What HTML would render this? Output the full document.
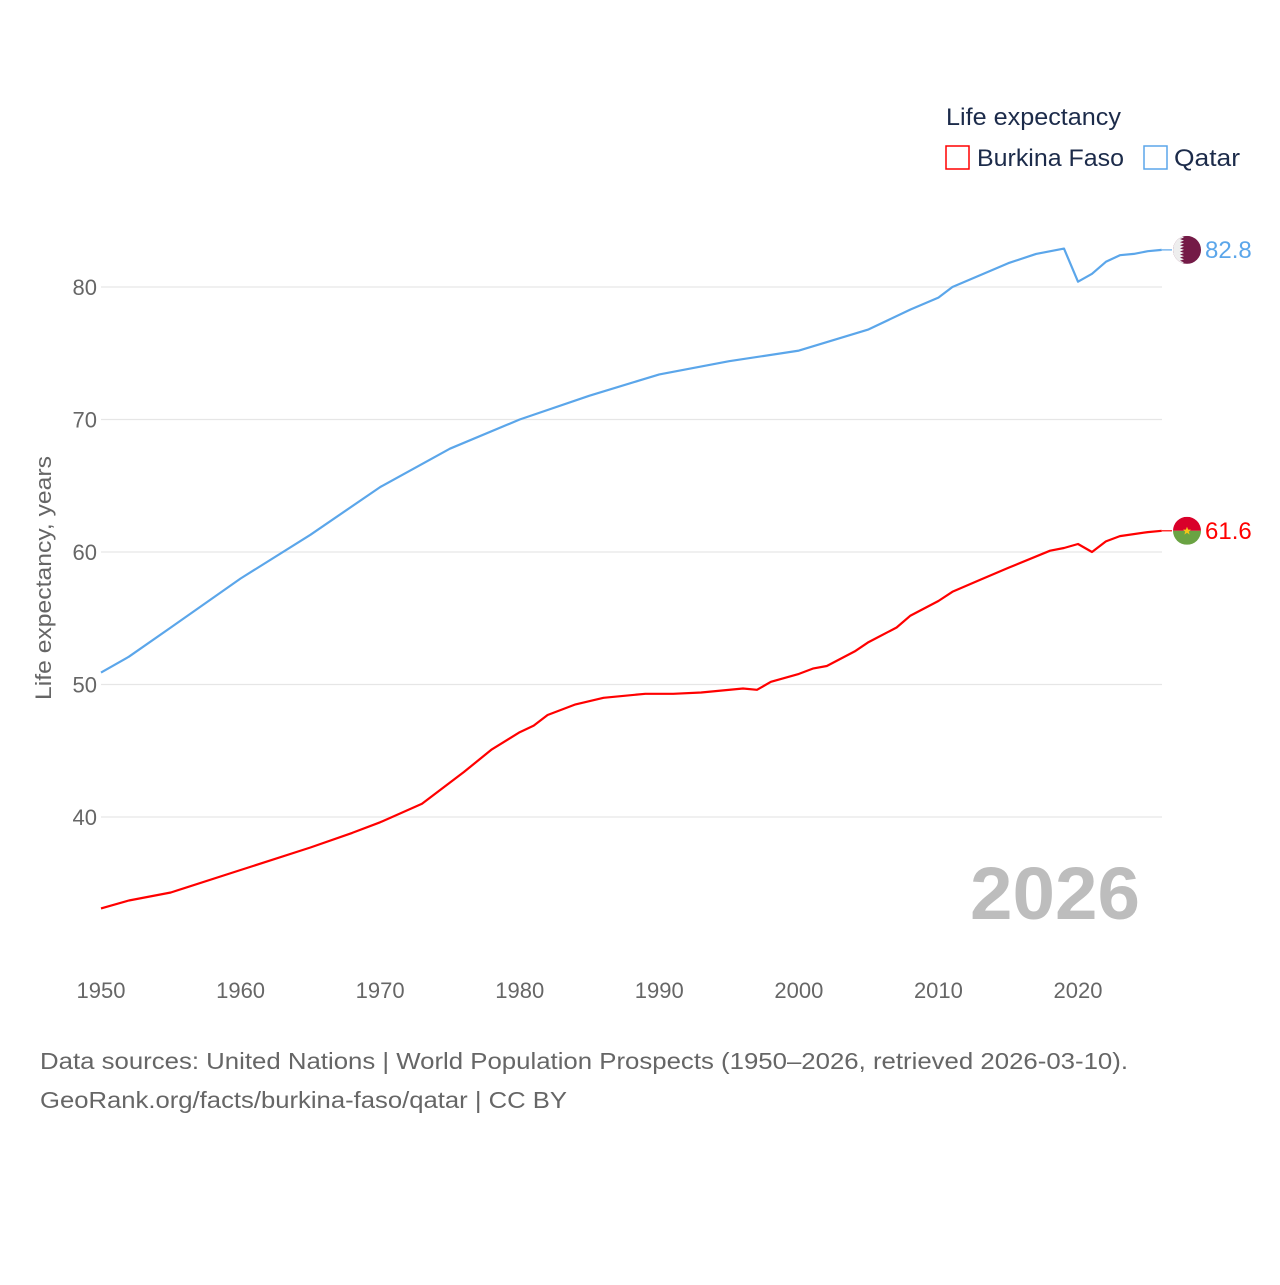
<!DOCTYPE html>
<html><head><meta charset="utf-8"><style>
body{margin:0;background:#fff;width:1280px;height:1280px;overflow:hidden;font-family:"Liberation Sans",sans-serif}
</style></head><body>
<svg width="1280" height="1280" xmlns="http://www.w3.org/2000/svg">
<g id="grid"></g>
<g id="yticks"></g>
<g id="xticks"></g>
<text transform="translate(51,578) rotate(-90)" text-anchor="middle" font-size="22" fill="#666" textLength="244" lengthAdjust="spacingAndGlyphs">Life expectancy, years</text>
<text x="1140" y="919" text-anchor="end" font-size="74" font-weight="bold" fill="#bdbdbd" textLength="170" lengthAdjust="spacingAndGlyphs">2026</text>
<g>
<text x="946" y="125" font-size="24" fill="#1c2b4a" textLength="175" lengthAdjust="spacingAndGlyphs">Life expectancy</text>
<rect x="946" y="146" width="23" height="23" fill="none" stroke="#ff0000" stroke-width="1.5"/>
<text x="977" y="166" font-size="24" fill="#1c2b4a" textLength="147" lengthAdjust="spacingAndGlyphs">Burkina Faso</text>
<rect x="1144" y="146" width="23" height="23" fill="none" stroke="#5ba6ea" stroke-width="1.5"/>
<text x="1174" y="166" font-size="24" fill="#1c2b4a" textLength="66" lengthAdjust="spacingAndGlyphs">Qatar</text>
</g>
<g id="series"></g>
<text x="40" y="1069" font-size="23" fill="#666" textLength="1088" lengthAdjust="spacingAndGlyphs">Data sources: United Nations | World Population Prospects (1950–2026, retrieved 2026-03-10).</text>
<text x="40" y="1108" font-size="23" fill="#666" textLength="527" lengthAdjust="spacingAndGlyphs">GeoRank.org/facts/burkina-faso/qatar | CC BY</text>
</svg>
<script>
const xTicks=[1950,1960,1970,1980,1990,2000,2010,2020];
const yTicks=[40,50,60,70,80];
const qatarYears=[1950,1952,1955,1960,1965,1970,1975,1980,1985,1990,1995,2000,2005,2008,2010,2011,2015,2017,2019,2020,2021,2022,2023,2024,2025,2026];
const qatarValues=[50.9,52.1,54.3,58.0,61.3,64.9,67.8,70.0,71.8,73.4,74.4,75.2,76.8,78.3,79.2,80.0,81.8,82.5,82.9,80.4,81.0,81.9,82.4,82.5,82.7,82.8];
const bfYears=[1950,1952,1955,1960,1965,1968,1970,1973,1976,1978,1980,1981,1982,1984,1986,1989,1991,1993,1996,1997,1998,2000,2001,2002,2004,2005,2007,2008,2010,2011,2013,2015,2018,2019,2020,2021,2022,2023,2025,2026];
const bfValues=[33.1,33.7,34.3,36.0,37.7,38.8,39.6,41.0,43.4,45.1,46.4,46.9,47.7,48.5,49.0,49.3,49.3,49.4,49.7,49.6,50.2,50.8,51.2,51.4,52.5,53.2,54.3,55.2,56.3,57.0,57.9,58.8,60.1,60.3,60.6,60.0,60.8,61.2,61.5,61.6];
const X=y=>101+(y-1950)*(977/70);
const Y=v=>287+(80-v)*13.25;
const NS="http://www.w3.org/2000/svg";
function mk(t,a,p){const e=document.createElementNS(NS,t);for(const k in a)e.setAttribute(k,a[k]);p.appendChild(e);return e;}
const grid=document.getElementById('grid'),yt=document.getElementById('yticks'),xt=document.getElementById('xticks'),ser=document.getElementById('series');
yTicks.forEach(v=>{
 const l=mk('line',{x1:101,x2:1162,y1:Y(v),y2:Y(v),stroke:'#e6e6e6','stroke-width':1.3},grid);
 
 
 const t=mk('text',{x:97,y:Y(v)+8,'text-anchor':'end','font-size':22,fill:'#666'},yt);t.textContent=v;
 
 
});
xTicks.forEach(v=>{
 const t=mk('text',{x:X(v),y:998,'text-anchor':'middle','font-size':22,fill:'#666'},xt);t.textContent=v;
 
 
});
function line(ys,vs,col,name){
 const d=ys.map((y,i)=>(i?'L':'M')+X(y).toFixed(1)+','+Y(vs[i]).toFixed(1)).join('');
 const p=mk('path',{d:d,fill:'none',stroke:col,'stroke-width':2.2,'stroke-linejoin':'round'},ser);
 
 
 const last=vs[vs.length-1],ly=Y(last);
 const c=mk('line',{x1:X(ys[ys.length-1]),x2:1172,y1:ly,y2:ly,stroke:col,'stroke-width':1.2},ser);
 
 
 const t=mk('text',{x:1205,y:ly+8,'font-size':24,fill:col},ser);t.textContent=last.toFixed(1);
 
 
 return ly;
}
const qy=line(qatarYears,qatarValues,'#5ba6ea','qatar');
const by=line(bfYears,bfValues,'#ff0000','burkina-faso');
const cx=1187,r=14;
const fq=mk('g',{},ser);


mk('clipPath',{id:'cq'},fq);
mk('circle',{cx:cx,cy:qy,r:r},document.getElementById('cq'));
const gq=mk('g',{'clip-path':'url(#cq)'},fq);
mk('rect',{x:cx-r,y:qy-r,width:2*r,height:2*r,fill:'#741b47'},gq);
mk('polygon',{points:`${cx-r},${qy-r} ${cx-7},${qy-r} `+Array.from({length:18},(_,i)=>`${i%2?cx-7:cx-3},${qy-r+(i+1)*28/18}`).join(' ')+` ${cx-r},${qy+r}`,fill:'#eee'},gq);
const fb=mk('g',{},ser);


mk('clipPath',{id:'cb'},fb);
mk('circle',{cx:cx,cy:by,r:r},document.getElementById('cb'));
const gb=mk('g',{'clip-path':'url(#cb)'},fb);
mk('rect',{x:cx-r,y:by-r,width:2*r,height:r,fill:'#d9002a'},gb);
mk('rect',{x:cx-r,y:by,width:2*r,height:r,fill:'#6aa343'},gb);
mk('polygon',{points:`${cx},${by-4} ${cx+1.2},${by-1.2} ${cx+4},${by-1.2} ${cx+1.8},${by+0.8} ${cx+2.6},${by+3.8} ${cx},${by+2} ${cx-2.6},${by+3.8} ${cx-1.8},${by+0.8} ${cx-4},${by-1.2} ${cx-1.2},${by-1.2}`,fill:'#f5c518'},gb);
</script>
</body></html>
